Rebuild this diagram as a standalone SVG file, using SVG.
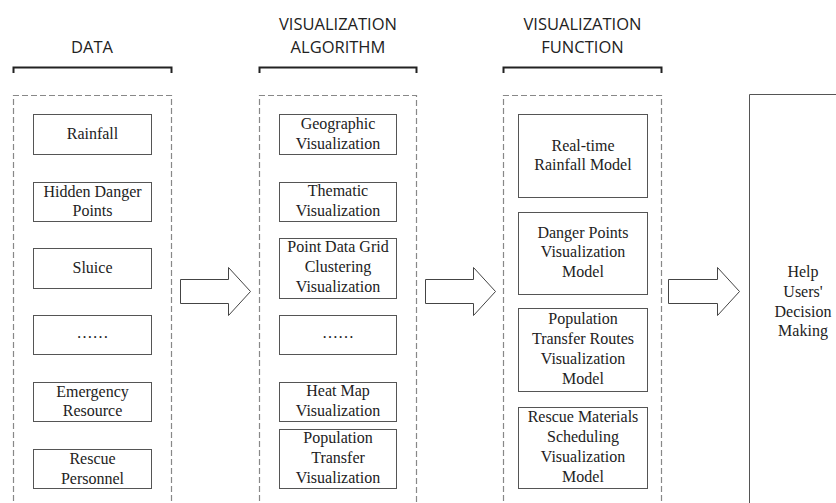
<svg xmlns="http://www.w3.org/2000/svg" width="836" height="503" viewBox="0 0 836 503">
<style>
.hdr{font-family:"Open Sans","Liberation Sans",sans-serif;font-size:16.5px;fill:#222;text-anchor:middle}
.br{fill:none;stroke:#222;stroke-width:2}
.grp{fill:none;stroke:#888;stroke-width:1.2;stroke-dasharray:6 3}
.box{fill:#fff;stroke:#555;stroke-width:1}
.lbl{font-family:"Liberation Serif","Times New Roman",serif;font-size:16px;fill:#222;text-anchor:middle}
.arr{fill:#fff;stroke:#444;stroke-width:1}
</style>
<rect width="836" height="503" fill="#fff"/>
<g id="headers">
<text class="hdr" x="92" y="53">DATA</text>
<text class="hdr" x="338" y="30">VISUALIZATION</text>
<text class="hdr" x="338" y="53">ALGORITHM</text>
<text class="hdr" x="582.5" y="30">VISUALIZATION</text>
<text class="hdr" x="582.5" y="53">FUNCTION</text>
<path class="br" d="M13.5,73 V67.5 H171.5 V73"/>
<path class="br" d="M259.5,73 V67.5 H416.5 V73"/>
<path class="br" d="M503.5,73 V67.5 H661.5 V73"/>
</g>
<g id="groups">
<path class="grp" d="M13.5,510 V95.5 H171.5 V510"/>
<path class="grp" d="M259.5,510 V95.5 H416.5 V510"/>
<path class="grp" d="M503.5,510 V95.5 H661.5 V510"/>
</g>
<g id="data-nodes">
<g id="n-rainfall"><rect class="box" x="33.5" y="114.5" width="118" height="40"/><text class="lbl" x="92.5" y="139">Rainfall</text></g>
<g id="n-hidden"><rect class="box" x="33.5" y="182.5" width="118" height="39"/><text class="lbl" x="92.5" y="197">Hidden Danger</text><text class="lbl" x="92.5" y="216">Points</text></g>
<g id="n-sluice"><rect class="box" x="33.5" y="248.5" width="118" height="40"/><text class="lbl" x="92.5" y="273">Sluice</text></g>
<g id="n-data-more"><rect class="box" x="33.5" y="315.5" width="118" height="39"/><text class="lbl" x="92.5" y="338">……</text></g>
<g id="n-emergency"><rect class="box" x="33.5" y="382.5" width="118" height="39"/><text class="lbl" x="92.5" y="397">Emergency</text><text class="lbl" x="92.5" y="416">Resource</text></g>
<g id="n-rescue"><rect class="box" x="33.5" y="449.5" width="118" height="39"/><text class="lbl" x="92.5" y="464">Rescue</text><text class="lbl" x="92.5" y="484">Personnel</text></g>
</g>
<g id="algorithm-nodes">
<g id="n-geo"><rect class="box" x="279.5" y="114.5" width="117" height="40"/><text class="lbl" x="338" y="128.5">Geographic</text><text class="lbl" x="338" y="148.5">Visualization</text></g>
<g id="n-thematic"><rect class="box" x="279.5" y="182.5" width="117" height="39"/><text class="lbl" x="338" y="196">Thematic</text><text class="lbl" x="338" y="216">Visualization</text></g>
<g id="n-grid"><rect class="box" x="279.5" y="238.5" width="117" height="60"/><text class="lbl" x="338" y="252">Point Data Grid</text><text class="lbl" x="338" y="272">Clustering</text><text class="lbl" x="338" y="292">Visualization</text></g>
<g id="n-alg-more"><rect class="box" x="279.5" y="315.5" width="117" height="39"/><text class="lbl" x="338" y="338">……</text></g>
<g id="n-heat"><rect class="box" x="279.5" y="382.5" width="117" height="39"/><text class="lbl" x="338" y="396">Heat Map</text><text class="lbl" x="338" y="416">Visualization</text></g>
<g id="n-poptrans"><rect class="box" x="279.5" y="429.5" width="117" height="59"/><text class="lbl" x="338" y="443">Population</text><text class="lbl" x="338" y="463">Transfer</text><text class="lbl" x="338" y="483">Visualization</text></g>
</g>
<g id="function-nodes">
<g id="n-realtime"><rect class="box" x="518.5" y="114.5" width="129" height="83"/><text class="lbl" x="583" y="150.5">Real-time</text><text class="lbl" x="583" y="170">Rainfall Model</text></g>
<g id="n-danger"><rect class="box" x="518.5" y="212.5" width="129" height="82"/><text class="lbl" x="583" y="237.5">Danger Points</text><text class="lbl" x="583" y="257">Visualization</text><text class="lbl" x="583" y="276.5">Model</text></g>
<g id="n-routes"><rect class="box" x="518.5" y="308.5" width="129" height="83"/><text class="lbl" x="583" y="323.5">Population</text><text class="lbl" x="583" y="343.5">Transfer Routes</text><text class="lbl" x="583" y="363.5">Visualization</text><text class="lbl" x="583" y="383.5">Model</text></g>
<g id="n-materials"><rect class="box" x="518.5" y="407.5" width="129" height="81"/><text class="lbl" x="583" y="422">Rescue Materials</text><text class="lbl" x="583" y="442">Scheduling</text><text class="lbl" x="583" y="462">Visualization</text><text class="lbl" x="583" y="482">Model</text></g>
</g>
<g id="n-decision">
<path fill="#fff" stroke="#555" stroke-width="1" d="M749.5,510 V94.5 H840"/>
<text class="lbl" x="803" y="277">Help</text>
<text class="lbl" x="803" y="297">Users'</text>
<text class="lbl" x="803" y="317">Decision</text>
<text class="lbl" x="803" y="336">Making</text>
</g>
<g id="connectors">
<path class="arr" d="M180.5,279.5 H228.5 V267.5 L250.5,291.5 L228.5,315.5 V303.5 H180.5 Z"/>
<path class="arr" d="M425.5,279.5 H473.5 V267.5 L495.5,291.5 L473.5,315.5 V303.5 H425.5 Z"/>
<path class="arr" d="M668.5,279.5 H717.5 V267.5 L739.5,291.5 L717.5,315.5 V303.5 H668.5 Z"/>
</g>
</svg>
